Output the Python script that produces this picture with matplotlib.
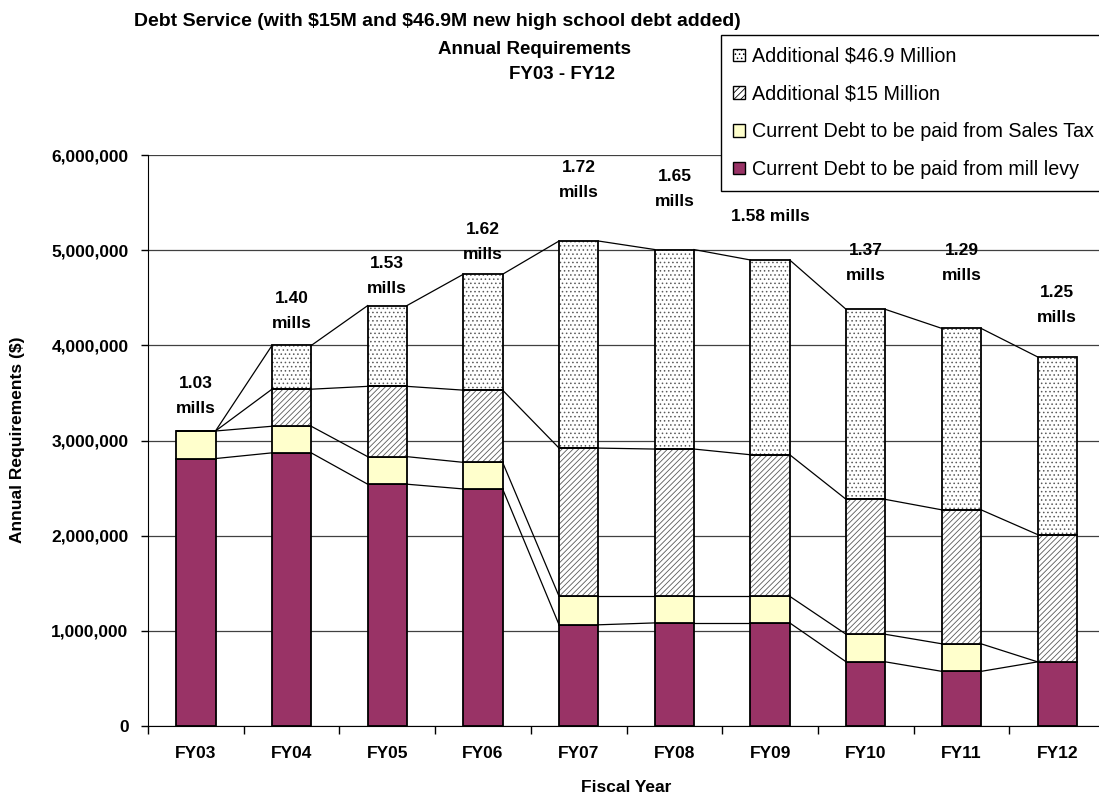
import matplotlib
matplotlib.use("Agg")
import matplotlib.pyplot as plt
from matplotlib.patches import Patch
import numpy as np

# Fiscal years on the x axis
years = ["FY03", "FY04", "FY05", "FY06", "FY07", "FY08", "FY09", "FY10", "FY11", "FY12"]

# Annual requirements by source ($)
mill_levy = [2810000, 2870000, 2540000, 2490000, 1060000, 1080000, 1080000, 670000, 570000, 670000]
sales_tax = [290000, 280000, 290000, 280000, 300000, 280000, 280000, 290000, 290000, 0]
add_15m = [0, 390000, 740000, 760000, 1560000, 1550000, 1490000, 1420000, 1410000, 1340000]
add_469m = [0, 460000, 850000, 1220000, 2180000, 2100000, 2050000, 2000000, 1910000, 1870000]

# Mill rate labels above each bar
mills = ["1.03\nmills", "1.40\nmills", "1.53\nmills", "1.62\nmills", "1.72\nmills",
         "1.65\nmills", "1.58 mills", "1.37\nmills", "1.29\nmills", "1.25\nmills"]

# vertical placement of the mill labels (layout only)
mills_y = [3470000, 4360000, 4730000, 5090000, 5740000, 5650000, 5360000, 4870000, 4870000, 4430000]

legend_labels = ["Additional $46.9 Million", "Additional $15 Million",
                 "Current Debt to be paid from Sales Tax", "Current Debt to be paid from mill levy"]

PURPLE = "#993366"
YELLOW = "#FFFFCC"
HATCH_GRAY = "#5a5a5a"


def main():
    plt.rcParams["font.family"] = ["Liberation Sans", "DejaVu Sans"]
    plt.rcParams["hatch.linewidth"] = 0.6

    fig = plt.figure(figsize=(10.99, 7.97), dpi=100)
    ax = fig.add_axes([0.1347, 0.0897, 0.8708, 0.7152])

    x = np.arange(len(years))
    w = 0.41

    # cumulative levels of the stacks
    lvl1 = np.array(mill_levy)
    lvl2 = lvl1 + np.array(sales_tax)
    lvl3 = lvl2 + np.array(add_15m)
    lvl4 = lvl3 + np.array(add_469m)

    # solid segments
    ax.bar(x, mill_levy, w, color=PURPLE, edgecolor="black", linewidth=1.3, zorder=3)
    ax.bar(x, sales_tax, w, bottom=lvl1, color=YELLOW, edgecolor="black", linewidth=1.3, zorder=3)

    # hatched segments: gray hatch first, then black outline on top
    ax.bar(x, add_15m, w, bottom=lvl2, facecolor="white", edgecolor=HATCH_GRAY,
           hatch="//////", linewidth=0, zorder=3)
    ax.bar(x, add_15m, w, bottom=lvl2, fill=False, edgecolor="black", linewidth=1.3, zorder=4)
    ax.bar(x, add_469m, w, bottom=lvl3, facecolor="white", edgecolor=HATCH_GRAY,
           hatch="....", linewidth=0, zorder=3)
    ax.bar(x, add_469m, w, bottom=lvl3, fill=False, edgecolor="black", linewidth=1.3, zorder=4)

    # series lines between neighbouring bars
    for lvl in [lvl1, lvl2, lvl3, lvl4]:
        for i in range(len(x) - 1):
            ax.plot([x[i] + w / 2, x[i + 1] - w / 2], [lvl[i], lvl[i + 1]],
                    color="black", linewidth=0.9, zorder=2)

    # mill labels
    for i in range(len(x)):
        ax.text(x[i], mills_y[i], mills[i], ha="center", va="center",
                fontsize=12.5, fontweight="bold", linespacing=1.85, zorder=5)

    # axes
    ax.set_xlim(-0.5, 9.5)
    ax.set_ylim(0, 6000000)
    yt = np.arange(0, 6000001, 1000000)
    ax.set_yticks(yt)
    ax.set_yticklabels(["{:,.0f}".format(v) for v in yt], fontweight="bold", fontsize=12.5)
    ax.set_xticks(x)
    ax.set_xticklabels(years, fontweight="bold", fontsize=12.5)
    ax.set_xticks(np.arange(-0.5, 10, 1), minor=True)
    ax.tick_params(axis="x", which="major", length=0, pad=15)
    ax.tick_params(axis="x", which="minor", length=6, width=1, direction="out")
    ax.tick_params(axis="y", length=5, width=1, pad=9)

    ax.yaxis.grid(True, color="#404040", linewidth=0.9)
    ax.set_axisbelow(True)
    ax.spines["top"].set_visible(False)
    ax.spines["right"].set_visible(False)

    # titles and axis labels
    fig.text(0.3976, 0.9724, "Debt Service (with \\$15M and \\$46.9M new high school debt added)",
             ha="center", va="center", fontsize=14, fontweight="bold")
    fig.text(0.4868, 0.9385, "Annual Requirements", ha="center", va="center",
             fontsize=13.5, fontweight="bold")
    fig.text(0.5114, 0.9059, "FY03 - FY12", ha="center", va="center",
             fontsize=13.5, fontweight="bold")
    fig.text(0.570, 0.0125, "Fiscal Year", ha="center", va="center",
             fontsize=12.5, fontweight="bold")
    fig.text(0.0155, 0.448, "Annual Requirements ($)", ha="center", va="center",
             rotation=90, fontsize=12.5, fontweight="bold")

    # legend, wide enough to run past the right edge like the original
    handles = [
        Patch(facecolor="white", edgecolor="black", hatch="...."),
        Patch(facecolor="white", edgecolor="black", hatch="/////"),
        Patch(facecolor=YELLOW, edgecolor="black"),
        Patch(facecolor=PURPLE, edgecolor="black"),
    ]
    leg = fig.legend(handles, legend_labels, loc="upper left",
                     bbox_to_anchor=(0.656, 0.5, 0.4, 0.456), mode="expand",
                     frameon=True, fancybox=False, edgecolor="black", framealpha=1,
                     fontsize=14.2, handlelength=0.6, handleheight=0.6, handletextpad=0.4,
                     labelspacing=0.95, borderpad=0.6, borderaxespad=0)
    leg.get_frame().set_linewidth(1)

    fig.savefig("out.png", dpi=100)


if __name__ == "__main__":
    main()
